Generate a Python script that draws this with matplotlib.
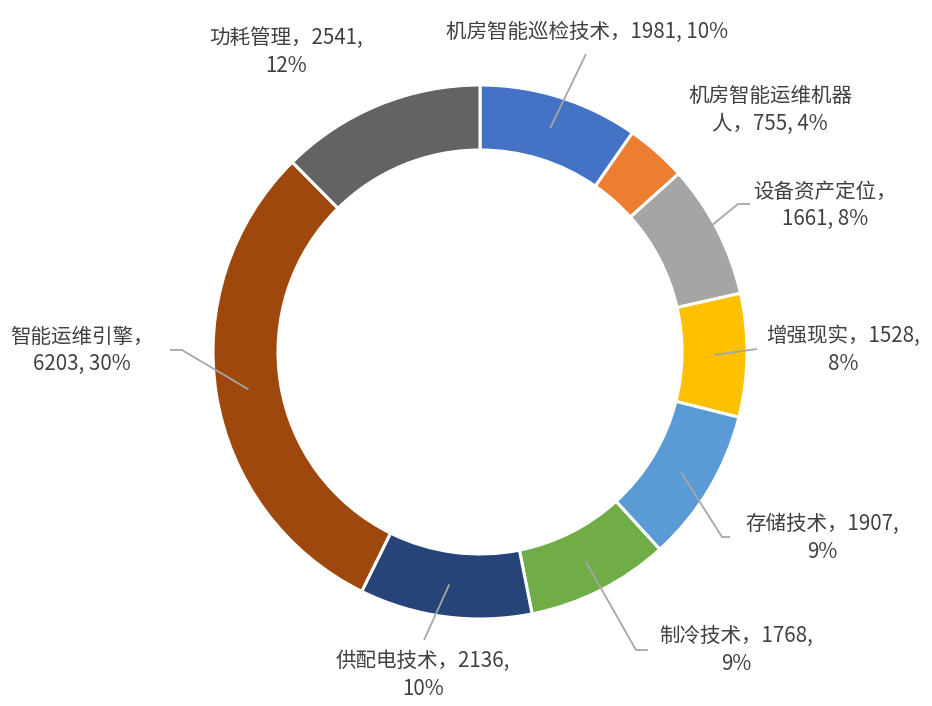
import numpy as np
import matplotlib
matplotlib.use("Agg")
import matplotlib.pyplot as plt

plt.rcParams['font.family'] = ['Noto Sans CJK SC', 'DejaVu Sans']

categories = ['机房智能巡检技术', '机房智能运维机器人', '设备资产定位', '增强现实', '存储技术',
              '制冷技术', '供配电技术', '智能运维引擎', '功耗管理']
values = [1981, 755, 1661, 1528, 1907, 1768, 2136, 6203, 2541]
percent_labels = ['10%', '4%', '8%', '8%', '9%', '9%', '10%', '30%', '12%']
label_texts = ['机房智能巡检技术，1981, 10%',
               '机房智能运维机器\n人，755, 4%',
               '设备资产定位，\n1661, 8%',
               '增强现实，1528,\n8%',
               '存储技术，1907,\n9%',
               '制冷技术，1768,\n9%',
               '供配电技术，2136,\n10%',
               '智能运维引擎，\n6203, 30%',
               '功耗管理，2541,\n12%']
colors = ['#4472C4', '#ED7D31', '#A5A5A5', '#FFC000', '#5B9BD5',
          '#70AD47', '#264478', '#9E480E', '#636363']

W, H = 932, 706
CX, CY = 480, 352
R_OUT, WIDTH = 267, 65


def px(x, y):
    return x - CX, CY - y


fig = plt.figure(figsize=(W / 100, H / 100), dpi=100)
ax = fig.add_axes([0, 0, 1, 1])

wedges, _ = ax.pie(values, colors=colors, startangle=90, counterclock=False,
                   radius=R_OUT, wedgeprops=dict(width=WIDTH, edgecolor='white', linewidth=2.2))
ax.set_xlim(-CX, W - CX)
ax.set_ylim(CY - H, CY)
ax.set_aspect('equal')
ax.axis('off')

# label layout: (text center px, leader line points after anchor, px)
layout = [
    ((587, 32), [(586, 54)]),
    ((770, 110), None),
    ((825, 205), [(738, 204), (750, 204)]),
    ((843, 350), [(757, 349)]),
    ((822, 538), [(722, 537), (730, 537)]),
    ((736, 650), [(636, 650), (648, 650)]),
    ((423, 675), [(424, 640)]),
    ((82, 350), [(182, 350), (170, 350)]),
    ((286, 52), None),
]

r_anchor = R_OUT - WIDTH / 2
for w, txt, (tpos, pts) in zip(wedges, label_texts, layout):
    ang = np.deg2rad((w.theta1 + w.theta2) / 2)
    ax_x, ax_y = r_anchor * np.cos(ang), r_anchor * np.sin(ang)
    if pts:
        xs = [ax_x] + [px(*p)[0] for p in pts]
        ys = [ax_y] + [px(*p)[1] for p in pts]
        ax.plot(xs, ys, color='#A6A6A6', lw=1.3, solid_capstyle='butt', zorder=3)
    tx, ty = px(*tpos)
    ax.text(tx, ty, txt, ha='center', va='center', fontsize=14.8, color='#404040',
            linespacing=1.3, multialignment='center')

fig.savefig('out.png', dpi=100)
